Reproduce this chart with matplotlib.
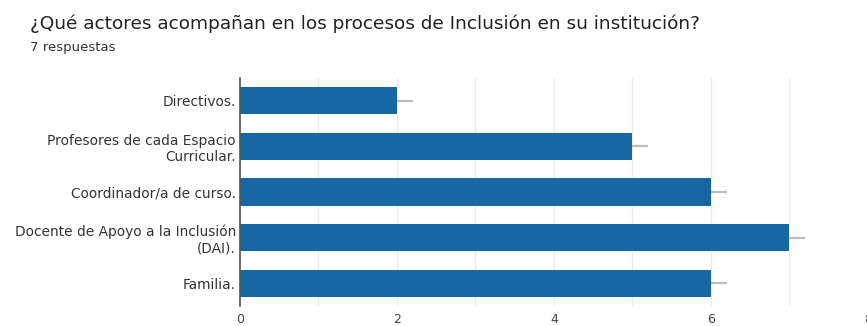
import matplotlib.pyplot as plt
import numpy as np

categories = ["Directivos.",
              "Profesores de cada Espacio\nCurricular.",
              "Coordinador/a de curso.",
              "Docente de Apoyo a la Inclusión\n(DAI).",
              "Familia."]
counts = [2, 5, 6, 7, 6]
xticks = [0, 2, 4, 6, 8]

fig = plt.figure(figsize=(8.67, 3.26), dpi=100)
ax = fig.add_axes([0.2768, 0.0613, 0.7243, 0.6994])

y = np.arange(len(categories))
ax.barh(y, counts, height=0.6, color="#1667a2", zorder=3)
# short grey stubs where the value labels would sit
ax.hlines(y, counts, np.array(counts) + 0.2, color="#bdbdbd", linewidth=1.6, zorder=2)

ax.set_ylim(len(categories) - 0.5, -0.5)
ax.set_xlim(0, 8)
ax.set_yticks(y)
ax.set_yticklabels(categories, fontsize=9.9, color="#333333", family="DejaVu Sans", ha="right")
ax.set_xticks(xticks)
ax.set_xticks(range(9), minor=True)
ax.set_xticklabels([str(t) for t in xticks], fontsize=9, color="#444444", family="DejaVu Sans")
ax.tick_params(axis="y", length=0, pad=3)
ax.tick_params(axis="x", which="both", length=0, pad=5)
ax.grid(axis="x", which="both", color="#ebebeb", linewidth=1, zorder=0)

for s in ["top", "right", "bottom"]:
    ax.spines[s].set_visible(False)
ax.spines["left"].set_color("#555555")
ax.spines["left"].set_linewidth(1.2)
ax.spines["left"].set_zorder(4)

fig.text(0.0346, 0.926, "¿Qué actores acompañan en los procesos de Inclusión en su institución?",
         fontsize=13.3, color="#222222", family="DejaVu Sans", va="center")
fig.text(0.0346, 0.853, "7 respuestas", fontsize=9.5, color="#333333", family="DejaVu Sans", va="center")

fig.savefig("out.png", dpi=100)
